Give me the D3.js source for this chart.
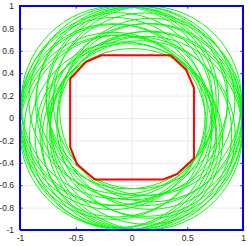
<!DOCTYPE html>
<html>
<head>
<meta charset="utf-8">
<script src="https://cdn.jsdelivr.net/npm/d3@7"></script>
<style>
  body { margin: 0; background: #fff; }
  svg { display: block; }
  .tick text { font-family: "Liberation Sans", Arial, sans-serif; font-size: 8.5px; fill: #262626; }
  .grid line { stroke: #ebebeb; stroke-width: 1; }
  .grid .domain { display: none; }
  .ax .domain { display: none; }
  .ax line { stroke: #262626; }
</style>
</head>
<body>
<div id="chart"></div>
<script>
// tick values / labels
const xTicks = [-1, -0.5, 0, 0.5, 1]
const xLabels = ['-1', '-0.5', '0', '0.5', '1']
const yTicks = [-1, -0.8, -0.6, -0.4, -0.2, 0, 0.2, 0.4, 0.6, 0.8, 1]
const yLabels = ['-1', '-0.8', '-0.6', '-0.4', '-0.2', '0', '0.2', '0.4', '0.6', '0.8', '1']

// blue box (constraint set)
const boxX = [-1, 1, 1, -1, -1]
const boxY = [-1, -1, 1, 1, -1]

// red polygon
const redX = [-0.55, -0.41, -0.27, 0.35, 0.49, 0.56, 0.56, 0.41, 0.28, -0.33, -0.49, -0.55, -0.55]
const redY = [0.35, 0.50, 0.56, 0.56, 0.43, 0.27, -0.36, -0.50, -0.55, -0.55, -0.41, -0.26, 0.35]

// green curves: centre and radius
const circX = [0.164, 0.176, 0.116, 0.143, 0.082, 0.049, 0.000, -0.035, -0.080, -0.130, -0.127, -0.160, -0.170,
    -0.138, -0.165, -0.140, -0.105, -0.075, -0.035, 0.007, 0.039, 0.085, 0.130, 0.133, 0.165, 0.129]
const circY = [0.014, 0.071, 0.078, 0.154, 0.149, 0.184, 0.130, 0.182, 0.160, 0.140, 0.080, 0.058, 0.012,
    -0.024, -0.070, -0.120, -0.121, -0.160, -0.166, -0.190, -0.135, -0.155, -0.135, -0.089, -0.060, -0.018]
const circR = [0.830, 0.820, 0.860, 0.845, 0.845, 0.816, 0.860, 0.815, 0.840, 0.860, 0.860, 0.840, 0.830,
    0.860, 0.835, 0.860, 0.860, 0.840, 0.830, 0.810, 0.860, 0.845, 0.865, 0.860, 0.835, 0.860]

const width = 249
const height = 246
const x = d3.scaleLinear().domain([-1, 1]).range([20, 243])
const y = d3.scaleLinear().domain([-1, 1]).range([230, 6])

const svg = d3.select('#chart')
    .append('svg')
    .attr('width', width)
    .attr('height', height)

//grid
svg.append('g')
    .attr('class', 'grid')
    .attr('transform', `translate(0,${y(-1)})`)
    .call(d3.axisBottom(x).tickValues(xTicks).tickSize(-(y(-1) - y(1))).tickFormat(''))
svg.append('g')
    .attr('class', 'grid')
    .attr('transform', `translate(${x(-1)},0)`)
    .call(d3.axisLeft(y).tickValues(yTicks).tickSize(-(x(1) - x(-1))).tickFormat(''))

//axes, ticks pointing inwards
svg.append('g')
    .attr('class', 'ax')
    .attr('transform', `translate(0,${y(-1)})`)
    .call(d3.axisBottom(x).tickValues(xTicks).tickSizeInner(-2.5).tickSizeOuter(0).tickPadding(5)
        .tickFormat((d, i) => xLabels[i]))
svg.append('g')
    .attr('class', 'ax')
    .attr('transform', `translate(0,${y(1)})`)
    .call(d3.axisTop(x).tickValues(xTicks).tickSizeInner(-2.5).tickSizeOuter(0).tickFormat(''))
svg.append('g')
    .attr('class', 'ax')
    .attr('transform', `translate(${x(-1)},0)`)
    .call(d3.axisLeft(y).tickValues(yTicks).tickSizeInner(-2.5).tickSizeOuter(0).tickPadding(6)
        .tickFormat((d, i) => yLabels[i]))
svg.append('g')
    .attr('class', 'ax')
    .attr('transform', `translate(${x(1)},0)`)
    .call(d3.axisRight(y).tickValues(yTicks).tickSizeInner(-2.5).tickSizeOuter(0).tickFormat(''))

svg.append('clipPath')
    .attr('id', 'clip')
    .append('rect')
    .attr('x', x(-1) - 1)
    .attr('y', y(1) - 1)
    .attr('width', x(1) - x(-1) + 2)
    .attr('height', y(-1) - y(1) + 2)

//green curves
svg.append('g')
    .attr('clip-path', 'url(#clip)')
    .selectAll('ellipse')
    .data(circX.map((cx, i) => ({ cx: cx, cy: circY[i], r: circR[i] })))
    .enter()
    .append('ellipse')
    .attr('cx', (d) => x(d.cx))
    .attr('cy', (d) => y(d.cy))
    .attr('rx', (d) => x(d.r) - x(0))
    .attr('ry', (d) => y(0) - y(d.r))
    .attr('fill', 'none')
    .attr('stroke', '#00ff00')
    .attr('stroke-width', 1)

const line = d3.line()
    .x((d) => x(d[0]))
    .y((d) => y(d[1]))

//red polygon
svg.append('path')
    .datum(redX.map((v, i) => [v, redY[i]]))
    .attr('d', line)
    .attr('fill', 'none')
    .attr('stroke', '#ff0000')
    .attr('stroke-width', 2)
    .attr('stroke-linejoin', 'round')

//blue box
svg.append('path')
    .datum(boxX.map((v, i) => [v, boxY[i]]))
    .attr('d', line)
    .attr('fill', 'none')
    .attr('stroke', '#0000ff')
    .attr('stroke-width', 2)
</script>
</body>
</html>
